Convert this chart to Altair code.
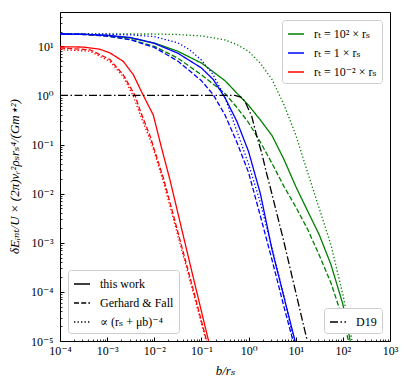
import altair as alt
import pandas as pd

# ---------------- axis ticks ----------------
x_ticks = [1e-4, 1e-3, 1e-2, 1e-1, 1e0, 1e1, 1e2, 1e3]
x_tick_labels = ['10⁻⁴', '10⁻³', '10⁻²', '10⁻¹', '10⁰', '10¹', '10²', '10³']
y_ticks = [1e-5, 1e-4, 1e-3, 1e-2, 1e-1, 1e0, 1e1]
y_tick_labels = ['10⁻⁵', '10⁻⁴', '10⁻³', '10⁻²', '10⁻¹', '10⁰', '10¹']
x_minor = [m * 10.0 ** e for e in range(-4, 3) for m in range(2, 10)]
y_minor = [m * 10.0 ** e for e in range(-5, 2) for m in range(2, 10) if m * 10.0 ** e <= 50]

# ---------------- categories ----------------
rt_labels = ['rₜ = 10² × rₛ', 'rₜ = 1 × rₛ', 'rₜ = 10⁻² × rₛ']
rt_colors = ['#008000', '#0000ff', '#ff0000']
model_labels = ['this work', 'Gerhard & Fall', '∝ (rₛ + μb)⁻⁴']
model_dashes = [[1, 0], [5, 2.2], [1.3, 2.2]]
d19_label = ['D19']
d19_dash = [[8, 2.5, 1.5, 2.5]]

# ---------------- series ----------------
# r_t = 1e2 r_s
g_sol_b = [1e-4, 3.16e-4, 1e-3, 3.16e-3, 1e-2, 3.16e-2, 0.1, 0.316, 0.562, 1.0, 1.78, 3.16, 5.62, 10.0, 17.8, 31.6, 56.2, 100.0, 145.0]
g_sol_E = [17.9, 17.6, 16.6, 14.8, 11.7, 7.94, 4.57, 2.0, 1.12, 0.63, 0.316, 0.151, 0.050, 0.0141, 4.47e-3, 1.45e-3, 3.55e-4, 5.6e-5, 9.5e-6]
g_gf_b = [1e-4, 3.16e-4, 1e-3, 3.16e-3, 1e-2, 3.16e-2, 0.1, 0.316, 0.562, 1.0, 1.78, 3.16, 5.62, 10.0, 17.8, 31.6, 56.2, 100.0, 140.0]
g_gf_E = [17.8, 17.4, 16.2, 13.8, 10.0, 5.75, 2.63, 1.10, 0.575, 0.28, 0.112, 0.041, 0.0141, 5.4e-3, 1.9e-3, 5.6e-4, 1.5e-4, 2.8e-5, 8e-6]
g_pl_b = [1e-4, 1e-3, 1e-2, 3.16e-2, 0.1, 0.316, 0.562, 1.0, 1.78, 3.16, 5.62, 10.0, 17.8, 31.6, 56.2, 100.0, 155.0, 165.0]
g_pl_E = [17.9, 17.9, 17.8, 17.4, 16.3, 13.5, 10.9, 7.9, 4.5, 2.1, 0.65, 0.158, 0.0275, 5.0e-3, 8.9e-4, 8.9e-5, 1.05e-5, 7e-6]
# r_t = 1 r_s
b_sol_b = [1e-4, 3.16e-4, 1e-3, 3.16e-3, 1e-2, 3.16e-2, 0.1, 0.178, 0.316, 0.562, 1.0, 1.78, 3.16, 5.62, 10.0, 11.0]
b_sol_E = [17.9, 17.6, 16.8, 15.1, 11.5, 7.24, 3.63, 2.11, 0.90, 0.30, 0.072, 0.010, 7.1e-4, 7.9e-5, 8.9e-6, 6e-6]
b_gf_b = [1e-4, 3.16e-4, 1e-3, 3.16e-3, 1e-2, 3.16e-2, 0.1, 0.178, 0.316, 0.562, 1.0, 1.78, 3.16, 5.62, 8.91, 10.0]
b_gf_E = [17.8, 17.4, 16.2, 13.5, 9.5, 5.0, 2.0, 1.04, 0.40, 0.113, 0.027, 3.5e-3, 4.4e-4, 5.0e-5, 9.5e-6, 6e-6]
b_pl_b = [1e-4, 1e-3, 3.16e-3, 1e-2, 3.16e-2, 0.0562, 0.1, 0.178, 0.316, 0.562, 1.0, 1.78, 3.16, 5.62, 9.12, 10.0]
b_pl_E = [17.9, 17.7, 17.1, 15.8, 11.8, 8.5, 5.25, 2.63, 0.91, 0.19, 0.040, 6.5e-3, 7.6e-4, 8.3e-5, 1.0e-5, 7e-6]
# r_t = 1e-2 r_s
r_sol_b = [1e-4, 3.16e-4, 7.08e-4, 1.15e-3, 2.20e-3, 3.59e-3, 5.85e-3, 9.53e-3, 1.41e-2, 2.15e-2, 6.31e-2, 0.140, 0.150]
r_sol_E = [9.8, 9.66, 8.71, 7.33, 4.94, 2.65, 1.0, 0.398, 0.089, 0.0191, 2.51e-4, 1.05e-5, 6e-6]
r_gf_b = [1e-4, 4.33e-4, 1.15e-3, 2.20e-3, 3.90e-3, 4.98e-3, 8.11e-3, 1e-2, 1.58e-2, 3.16e-2, 6.31e-2, 0.129, 0.14]
r_gf_E = [9.27, 8.51, 5.37, 2.63, 1.0, 0.50, 0.151, 0.079, 0.020, 1.66e-3, 1.38e-4, 1.0e-5, 6e-6]
r_pl_b = [1e-4, 4.33e-4, 1.15e-3, 2.20e-3, 3.54e-3, 4.98e-3, 8.11e-3, 1e-2, 1.58e-2, 3.16e-2, 6.31e-2, 0.126, 0.135]
r_pl_E = [8.57, 7.94, 4.90, 2.40, 1.0, 0.417, 0.126, 0.071, 0.0166, 1.41e-3, 1.2e-4, 1.0e-5, 6e-6]
# D19
d19_b = [1e-4, 0.1, 0.515, 0.708, 0.839, 1.164, 1.486, 1.90, 2.43, 2.85, 5.46, 10.5, 17.6, 19.0]
d19_E = [1.0, 1.0, 1.0, 0.912, 0.759, 0.380, 0.151, 0.0676, 0.0251, 0.0141, 1.17e-3, 8.1e-5, 1.0e-5, 7e-6]

series = [
    (0, 0, g_sol_b, g_sol_E), (0, 1, g_gf_b, g_gf_E), (0, 2, g_pl_b, g_pl_E),
    (1, 0, b_sol_b, b_sol_E), (1, 1, b_gf_b, b_gf_E), (1, 2, b_pl_b, b_pl_E),
    (2, 0, r_sol_b, r_sol_E), (2, 1, r_gf_b, r_gf_E), (2, 2, r_pl_b, r_pl_E),
]
rows = []
for ci, mi, bs, es in series:
    for b, e in zip(bs, es):
        rows.append({'b': b, 'E': e, 'rt': rt_labels[ci], 'model': model_labels[mi],
                     'series': f'{ci}-{mi}'})
df = pd.DataFrame(rows)
df_d19 = pd.DataFrame({'b': d19_b, 'E': d19_E, 'name': d19_label[0]})

FONT = "Liberation Serif, DejaVu Serif, serif"


def label_expr(labels, first_exp):
    arr = "[" + ",".join("'" + s + "'" for s in labels) + "]"
    return arr + "[round(log(datum.value)/LN10)-(" + str(first_exp) + ")]"


x_scale = alt.Scale(type='log', domain=[1e-4, 1e3], nice=False)
y_scale = alt.Scale(type='log', domain=[1e-5, 50], nice=False)

major_x = alt.Axis(values=x_ticks, labelExpr=label_expr(x_tick_labels, -4), orient='bottom',
                   offset=-4, tickSize=4, tickColor='black', tickWidth=1, domain=False, grid=False,
                   labelPadding=4, labelFlush=False, labelOverlap=False, labelFont=FONT,
                   labelFontSize=12, labelColor='black', title='b/rₛ', titleFont=FONT,
                   titleFontSize=13, titleFontWeight='normal', titleFontStyle='italic',
                   titleColor='black', titlePadding=8)
major_y = alt.Axis(values=y_ticks, labelExpr=label_expr(y_tick_labels, -5), orient='left',
                   offset=-4, tickSize=4, tickColor='black', tickWidth=1, domain=False, grid=False,
                   labelPadding=7, labelFlush=False, labelOverlap=False, labelFont=FONT,
                   labelFontSize=12, labelColor='black',
                   title='δEᵢₙₜ/U × (2π)vᵣ²ρₛrₛ⁴/(Gm⋆²)', titleFont=FONT, titleFontSize=13,
                   titleFontWeight='normal', titleFontStyle='italic', titleColor='black',
                   titleX=-50, titleY=164, titleAngle=270, titleAlign='center',
                   titleBaseline='middle')
minor_x = alt.Axis(values=x_minor, orient='bottom', offset=-2, tickSize=2, tickColor='black',
                   tickWidth=0.8, labels=False, domain=False, grid=False, title=None)
minor_y = alt.Axis(values=y_minor, orient='left', offset=-2, tickSize=2, tickColor='black',
                   tickWidth=0.8, labels=False, domain=False, grid=False, title=None)

lines = alt.Chart(df).mark_line(clip=True, strokeWidth=1.3, color='black').encode(
    x=alt.X('b:Q', scale=x_scale, axis=major_x),
    y=alt.Y('E:Q', scale=y_scale, axis=major_y),
    color=alt.Color('rt:N', scale=alt.Scale(domain=rt_labels, range=rt_colors),
                    legend=alt.Legend(orient='top-right', title=None)),
    strokeDash=alt.StrokeDash('model:N', scale=alt.Scale(domain=model_labels, range=model_dashes),
                              legend=alt.Legend(orient='bottom-left', title=None)),
    detail='series:N',
)

d19 = alt.Chart(df_d19).mark_line(clip=True, strokeWidth=1.3, color='black').encode(
    x=alt.X('b:Q', scale=x_scale, axis=minor_x),
    y=alt.Y('E:Q', scale=y_scale, axis=minor_y),
    strokeDash=alt.StrokeDash('name:N', scale=alt.Scale(domain=d19_label, range=d19_dash),
                              legend=alt.Legend(orient='bottom-right', title=None)),
)

chart = alt.layer(lines, d19).resolve_scale(strokeDash='independent').resolve_axis(
    x='independent', y='independent'
).properties(
    width=330, height=329,
    autosize=alt.AutoSizeParams(type='none'),
    padding={'left': 52, 'top': 4, 'right': 9, 'bottom': 38},
).configure_view(stroke='black', strokeWidth=1).configure_legend(
    fillColor='white', strokeColor='#cccccc', cornerRadius=3, padding=5, offset=8,
    labelFont=FONT, labelFontSize=12, labelColor='black', labelOffset=9,
    symbolType='stroke', symbolSize=256, symbolStrokeWidth=1.5, rowPadding=4,
    symbolBaseStrokeColor='black', symbolStrokeColor='black',
)

chart.save("out.html", embed_options={"renderer": "svg", "actions": False})
